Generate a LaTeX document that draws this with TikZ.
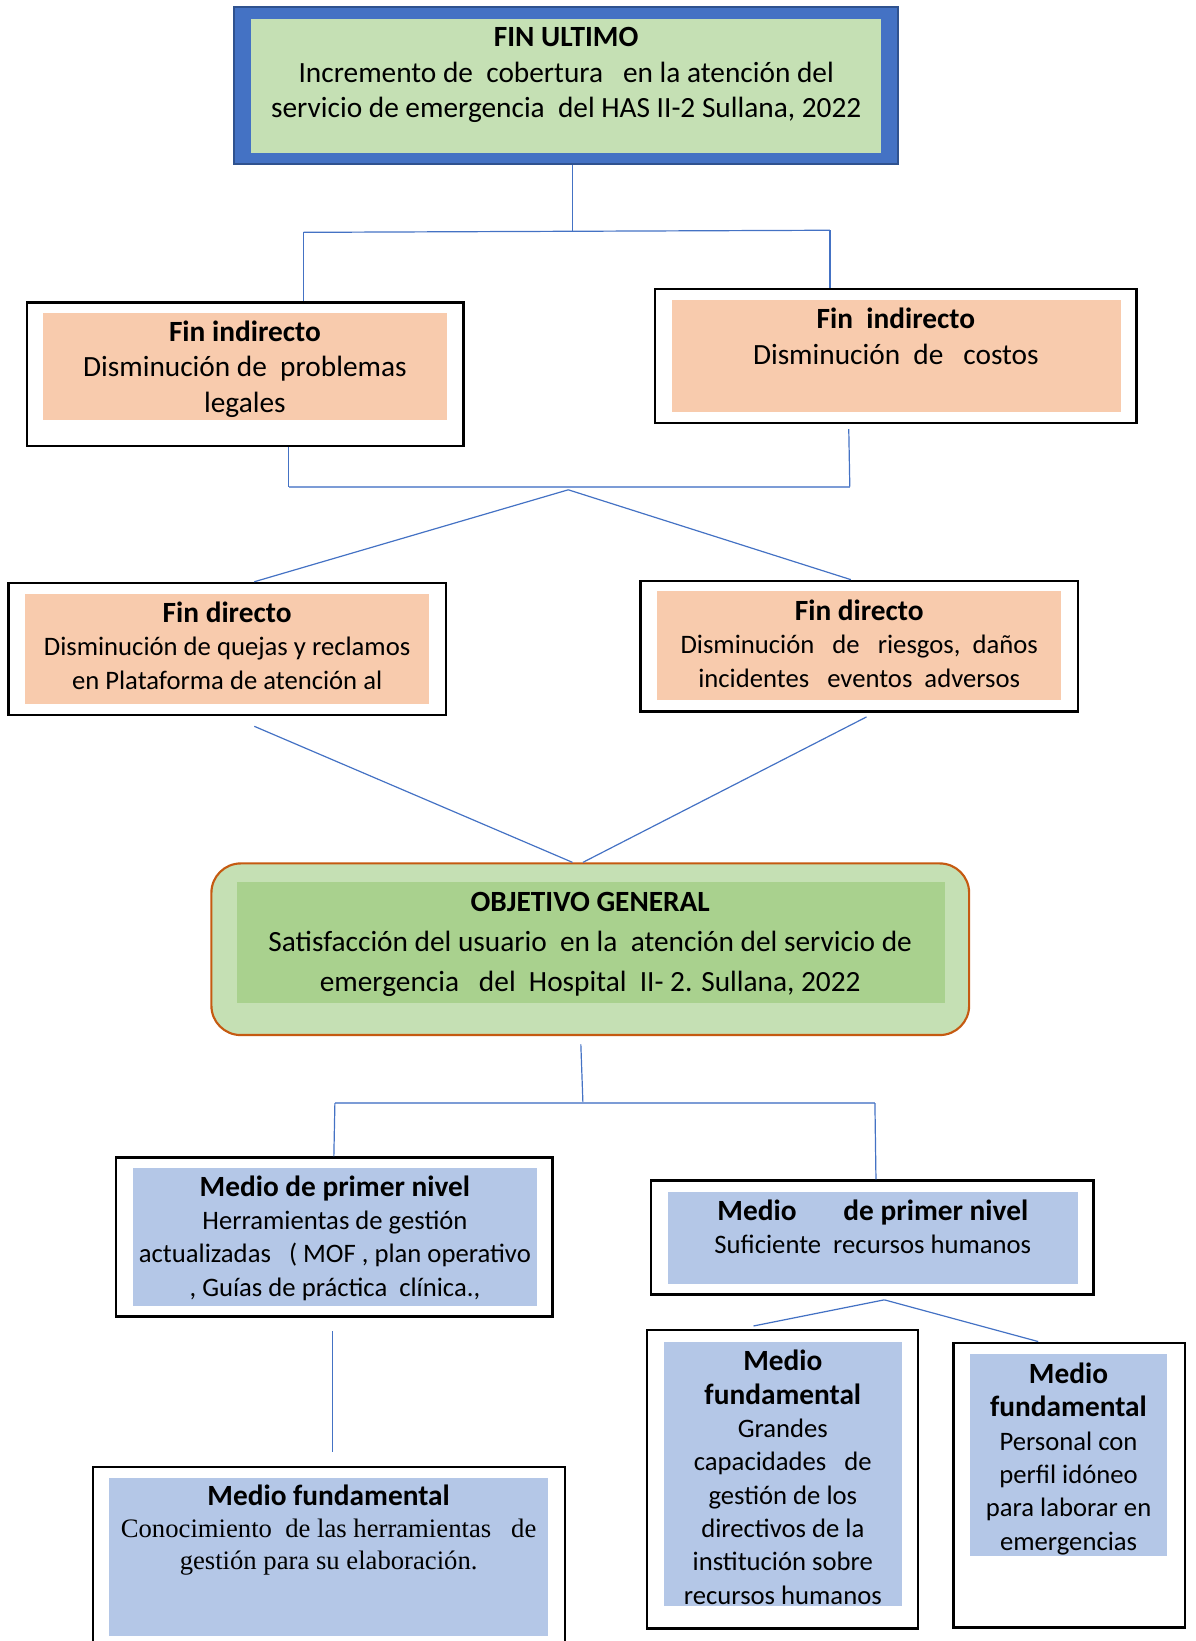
\documentclass[tikz,border=0pt]{standalone}
\usepackage{fontspec}
\setmainfont{Carlito}
\newfontfamily\timesx{Liberation Serif}
\usepackage{tikz}
\usetikzlibrary{calc,fit,positioning}
\definecolor{bluex}{HTML}{4472C4}
\definecolor{bluedk}{HTML}{2F528F}
\definecolor{greenl}{HTML}{C5E0B4}
\definecolor{greend}{HTML}{A9D18E}
\definecolor{peach}{HTML}{F8CBAD}
\definecolor{bluel}{HTML}{B4C7E7}
\definecolor{brownx}{HTML}{C55A11}
\newcommand\fbig{\fontsize{22}{26.7}\selectfont}
\newcommand\fobj{\fontsize{22}{30.2}\selectfont}
\newcommand\fsmall{\fontsize{20}{25}\selectfont}
\newcommand\hd[1]{{\fontsize{22}{25}\selectfont\bfseries #1}}
\tikzset{
  link/.style={draw=bluex,line width=0.9pt},
  bar/.style={draw=bluex!70,line width=1.5pt},
  frame/.style={draw=black,line width=1.8pt,inner sep=0pt},
  pad/.style={draw=none,inner sep=0pt},
  txt/.style={align=center,inner sep=0pt,anchor=north,text=black}
}

\begin{document}
\begin{tikzpicture}[x=0.7848pt,y=-0.7848pt]
\clip (0,0) rectangle (1142,1568);
% fin ultimo
\node[frame,draw=bluedk,line width=1.5pt,fill=bluex,fit={(224,7) (858,157)}] (fu) {};
\node[pad,fill=greenl,fit={(240,18) (842,146)}] (fuin) {};
\node[txt,font=\fbig] (fut) at (541,26) {\textbf{FIN ULTIMO}\\Incremento de~~cobertura~~~en la atención del\\servicio de emergencia~~del HAS II-2 Sullana, 2022};
% fines indirectos
\node[frame,fit={(26,289) (443,426)}] (fi1) {};
\node[pad,fill=peach,fit={(41,299) (427,401)}] (fi1in) {};
\node[txt,font=\fbig] (fi1t) at (234,306) {\textbf{Fin indirecto}\\Disminución de~~problemas\\legales};
\node[frame,fit={(626,276) (1086,404)}] (fi2) {};
\node[pad,fill=peach,fit={(642,287) (1071,394)}] (fi2in) {};
\node[txt,font=\fbig] (fi2t) at (856,294) {\textbf{Fin~~indirecto}\\Disminución~~de~~~costos};
% fines directos
\node[frame,fit={(8,557) (426,683)}] (fd1) {};
\node[pad,fill=peach,fit={(24,568) (410,673)}] (fd1in) {};
\node[txt,font=\fsmall] (fd1t) at (217,575) {\hd{Fin directo}\\Disminución de quejas y reclamos\\en Plataforma de atención al};
\node[frame,fit={(612,555) (1030,680)}] (fd2) {};
\node[pad,fill=peach,fit={(628,565) (1014,669)}] (fd2in) {};
\node[txt,font=\fsmall] (fd2t) at (821,573) {\hd{Fin directo}\\Disminución~~~de~~~riesgos,~~daños\\incidentes~~~eventos~~adversos};
% objetivo general
\node[draw=brownx,line width=1.6pt,rounded corners=22pt,fill=greenl,inner sep=0pt,fit={(202,825) (926,989)}] (og) {};
\node[pad,fill=greend,fit={(226,843) (903,958)}] (ogin) {};
\node[txt,font=\fobj] (ogt) at (564,852) {\textbf{OBJETIVO GENERAL}\\Satisfacción del usuario~~en la~~atención del servicio de\\emergencia~~~del~~Hospital~~II- 2. Sullana, 2022};
% medios de primer nivel
\node[frame,fit={(111,1106) (528,1258)}] (mp1) {};
\node[pad,fill=bluel,fit={(127,1116) (513,1248)}] (mp1in) {};
\node[txt,font=\fsmall] (mp1t) at (320,1123) {\hd{Medio de primer nivel}\\Herramientas de gestión\\actualizadas~~~( MOF , plan operativo\\, Guías de práctica~~clínica.,};
\node[frame,fit={(622,1128) (1045,1237)}] (mp2) {};
\node[pad,fill=bluel,fit={(638,1139) (1030,1227)}] (mp2in) {};
\node[txt,font=\fsmall] (mp2t) at (834,1146) {\hd{Medio\hspace{1.6em}de primer nivel}\\Suficiente~~recursos humanos};
% medios fundamentales
\node[frame,fit={(89,1402) (540,1590)}] (mf1) {};
\node[pad,fill=bluel,fit={(104,1412) (524,1563)}] (mf1in) {};
\node[txt,font=\fontsize{20}{24}\selectfont] (mf1t) at (314,1419) {\hd{Medio fundamental}\\{\timesx Conocimiento~~de las herramientas~~~de}\\{\timesx gestión para su elaboración.}};
\node[frame,fit={(618,1271) (877,1556)}] (mf2) {};
\node[pad,fill=bluel,fit={(634,1282) (862,1535)}] (mf2in) {};
\node[txt,font=\fsmall] (mf2t) at (748,1290) {\hd{Medio}\\\hd{fundamental}\\Grandes\\capacidades~~~de\\gestión de los\\directivos de la\\institución sobre\\recursos humanos};
\node[frame,fit={(911,1283) (1132,1555)}] (mf3) {};
\node[pad,fill=bluel,fit={(927,1294) (1115,1487)}] (mf3in) {};
\node[txt,font=\fsmall] (mf3t) at (1021,1302) {\hd{Medio}\\\hd{fundamental}\\Personal con\\perfil idóneo\\para laborar en\\emergencias};
% conectores
\coordinate (j1) at (547,221);
\coordinate (j1l) at (290,222);
\coordinate (j1r) at (793,220);
\draw[link] (fu.south -| j1) -- (j1);
\draw[link] (j1l) -- (j1r);
\draw[link] (j1l) -- (j1l |- fi1.north);
\draw[link] (j1r) -- (j1r |- fi2.north);
\coordinate (j2) at (543,468);
\coordinate (j2l) at (276,465);
\coordinate (j2r) at (812,465);
\coordinate (g2r) at (811,410);
\draw[bar] (j2l) -- (j2r);
\draw[link] (fi1.south -| j2l) -- (j2l);
\draw[link] (g2r) -- (j2r);
\draw[link] (j2) -- (fd1.north -| 243,0);
\draw[link] (j2) -- (fd2.north -| 813,0);
\coordinate (g3l) at (243,694);
\coordinate (g3r) at (828,685);
\draw[link] (g3l) -- (og.north -| 547,0);
\draw[link] (g3r) -- (og.north -| 557,0);
\coordinate (g4) at (555,998);
\coordinate (j4) at (557,1054);
\coordinate (j4l) at (320,1054);
\coordinate (j4r) at (836,1054);
\draw[link] (g4) -- (j4);
\draw[bar] (j4l) -- (j4r);
\draw[link] (j4l) -- (mp1.north -| 319,0);
\draw[link] (j4r) -- (mp2.north -| 837,0);
\coordinate (g5t) at (318,1272);
\coordinate (g5b) at (318,1387);
\draw[link] (g5t) -- (g5b);
\coordinate (j6) at (845,1242);
\coordinate (g6l) at (720,1267);
\draw[link] (j6) -- (g6l);
\draw[link] (j6) -- (mf3.north -| 992,0);
\end{tikzpicture}
\end{document}
